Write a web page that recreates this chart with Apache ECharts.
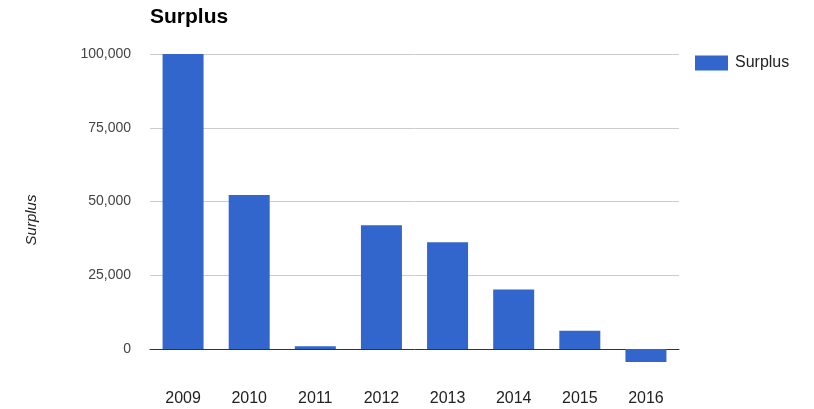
<!DOCTYPE html>
<html>
<head>
<meta charset="utf-8">
<style>
  html, body { margin: 0; padding: 0; background: #fff; }
  #chart { width: 814px; height: 409px; }
</style>
<script src="https://cdn.jsdelivr.net/npm/echarts@6/dist/echarts.min.js"></script>
</head>
<body>
<div id="chart"></div>
<script>
// Yearly surplus figures
const years = ['2009', '2010', '2011', '2012', '2013', '2014', '2015', '2016'];
const surplus = [100000, 52200, 1000, 42000, 36200, 20200, 6200, -4400];
const seriesName = 'Surplus';
const labelStep = 25000;

const chart = echarts.init(document.getElementById('chart'));
const font = '"Liberation Sans", Arial, sans-serif';

chart.setOption({
  animation: false,
  title: {
    text: 'Surplus',
    left: 150,
    top: 7,
    padding: 0,
    textStyle: { fontFamily: font, fontSize: 21, fontWeight: 'bold', color: '#000' }
  },
  legend: {
    data: [seriesName],
    left: 695,
    top: 55,
    padding: 0,
    itemWidth: 33,
    itemHeight: 15,
    itemGap: 8,
    icon: 'rect',
    textStyle: { fontFamily: font, fontSize: 16, color: '#222', padding: [0, 0, 0, 2] }
  },
  grid: { left: 150, right: 135, top: 54, bottom: 23, outerBoundsMode: 'none' },
  xAxis: {
    type: 'category',
    data: years,
    axisLine: { onZero: true, lineStyle: { color: '#333', width: 1 } },
    axisTick: { show: false },
    axisLabel: { margin: 5, fontFamily: font, fontSize: 16, color: '#222' },
    splitLine: { show: false }
  },
  yAxis: {
    type: 'value',
    min: -12500,
    max: 100000,
    interval: 12500,
    name: 'Surplus',
    nameLocation: 'middle',
    nameGap: 111,
    nameTextStyle: { fontFamily: font, fontSize: 15, fontStyle: 'italic', color: '#222' },
    axisLine: { show: false },
    axisTick: { show: false },
    axisLabel: {
      margin: 19,
      fontFamily: font,
      fontSize: 14,
      color: '#444',
      formatter: v => (v >= 0 && v % labelStep === 0) ? v.toLocaleString('en-US') : ''
    },
    splitLine: {
      show: true,
      lineStyle: { color: ['transparent', 'transparent', 'transparent', '#cccccc', 'transparent', '#cccccc', 'transparent', '#cccccc', 'transparent', '#cccccc'] }
    }
  },
  series: [{
    name: seriesName,
    type: 'bar',
    data: surplus,
    barWidth: '62%',
    itemStyle: { color: '#3366cc' }
  }]
});
</script>
</body>
</html>
